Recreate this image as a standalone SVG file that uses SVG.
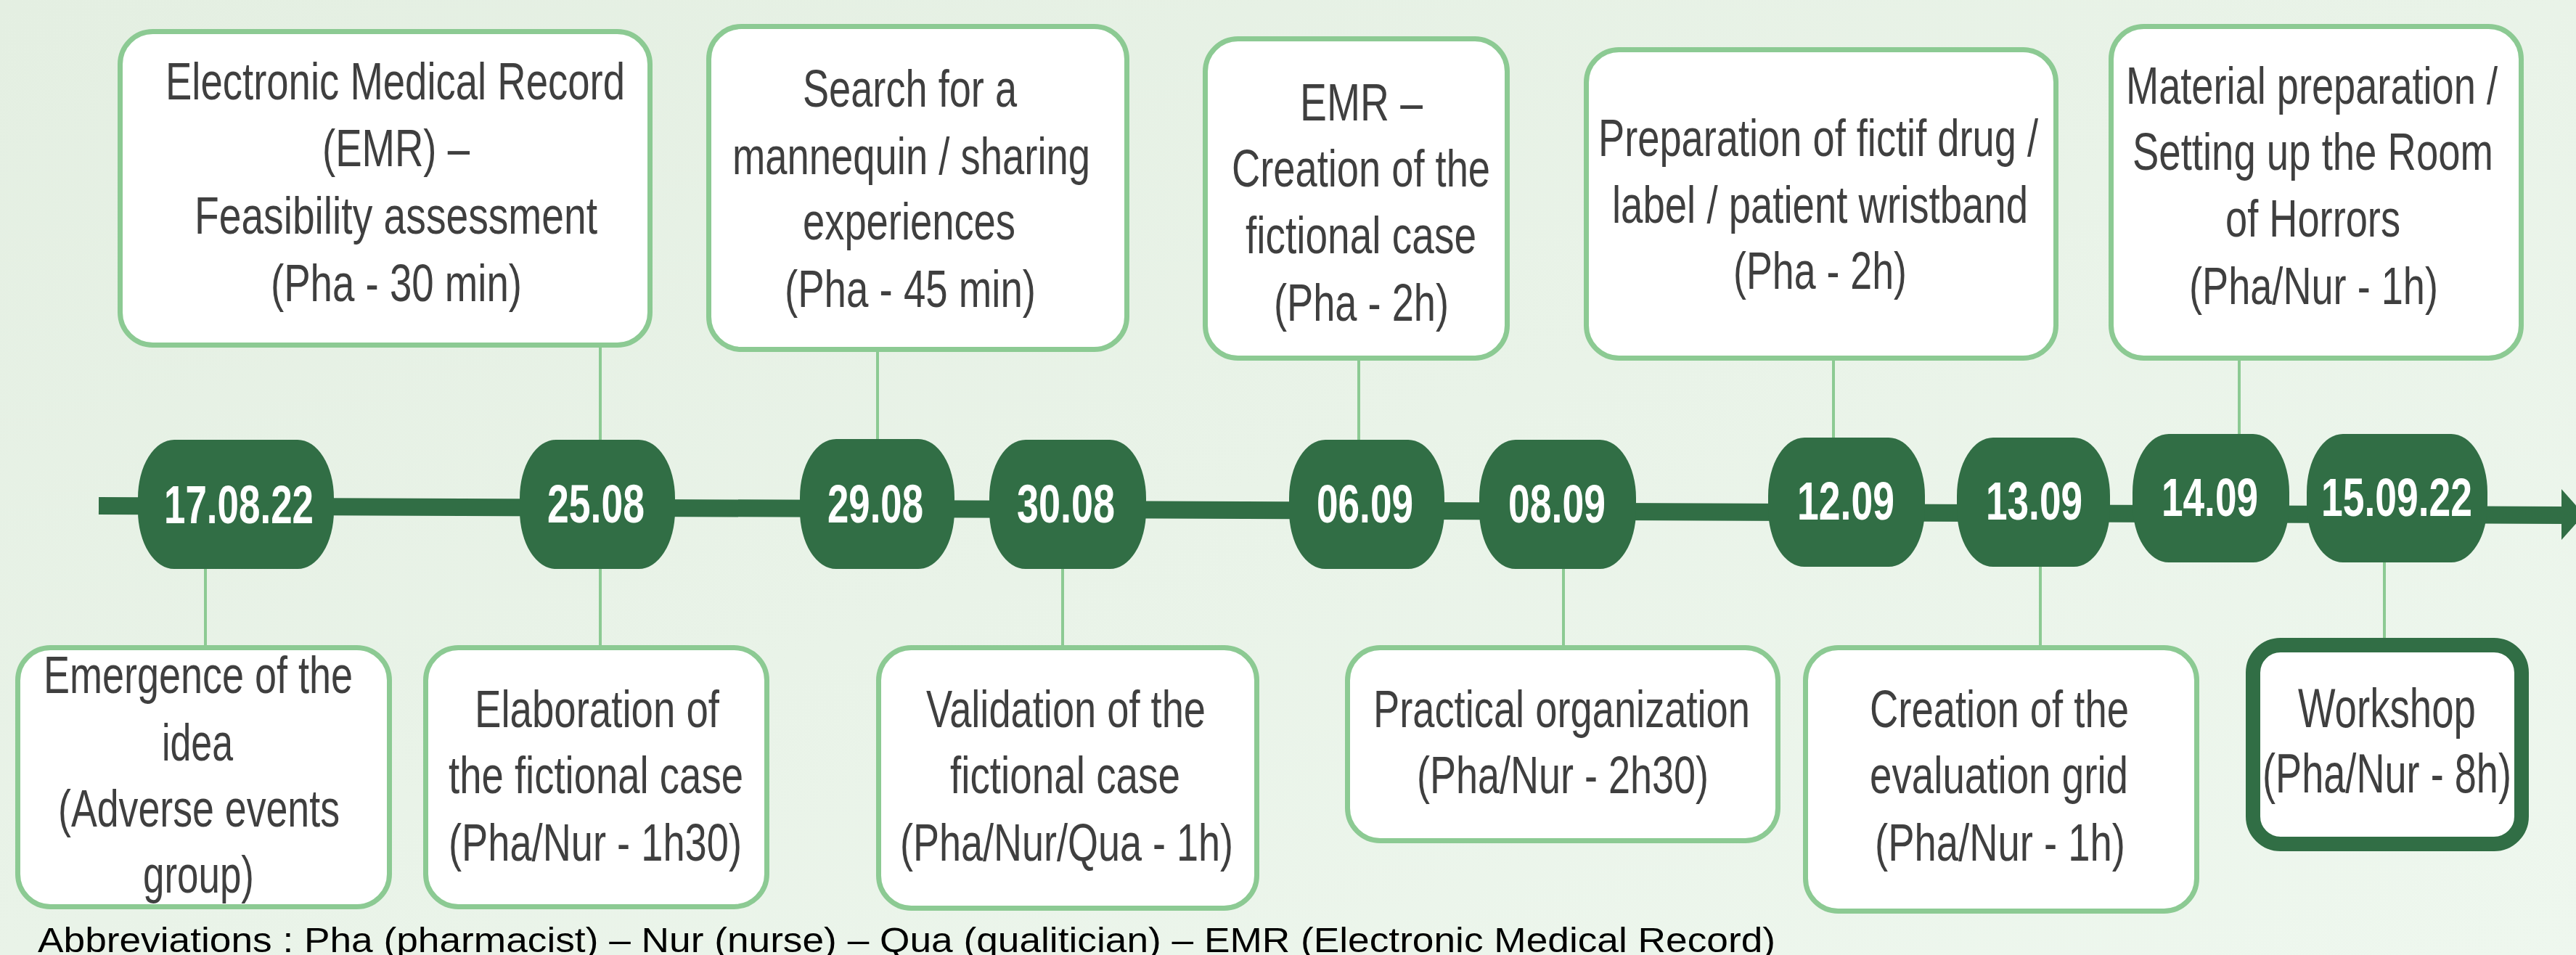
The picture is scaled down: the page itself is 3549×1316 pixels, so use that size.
<svg xmlns="http://www.w3.org/2000/svg" width="3549" height="1316" viewBox="0 0 3549 1316">
<defs>
<linearGradient id="bg" x1="0" y1="0" x2="1" y2="1">
<stop offset="0" stop-color="#e4efe2"/>
<stop offset="1" stop-color="#eef7ee"/>
</linearGradient>
<style>
.box{fill:#ffffff;stroke:#8cca93;stroke-width:7}
.wbox{fill:#ffffff;stroke:#316e45;stroke-width:20}
.node{fill:#316e45}
.lbl{font-family:"Liberation Sans",Arial,sans-serif;font-size:72px;fill:#3f3f3f}
.lblw{font-family:"Liberation Sans",Arial,sans-serif;font-size:76px;fill:#3f3f3f}
.date{font-family:"Liberation Sans",Arial,sans-serif;font-size:75px;font-weight:bold;fill:#ffffff}
.conn{stroke:#8cca93;stroke-width:4;fill:none}
.abbr{font-family:"Liberation Sans",Arial,sans-serif;font-size:49px;fill:#000000}
</style>
</defs>
<rect x="0" y="0" width="3549" height="1316" fill="url(#bg)"/>

<g id="connectors">
<line class="conn" x1="827" y1="479" x2="827" y2="608"/>
<line class="conn" x1="1209" y1="485" x2="1209" y2="607"/>
<line class="conn" x1="1872" y1="497" x2="1872" y2="608"/>
<line class="conn" x1="2526" y1="497" x2="2526" y2="605"/>
<line class="conn" x1="3085" y1="497" x2="3085" y2="600"/>
<line class="conn" x1="283" y1="782" x2="283" y2="890"/>
<line class="conn" x1="827" y1="782" x2="827" y2="890"/>
<line class="conn" x1="1464" y1="782" x2="1464" y2="890"/>
<line class="conn" x1="2154" y1="782" x2="2154" y2="890"/>
<line class="conn" x1="2811" y1="779" x2="2811" y2="890"/>
<line class="conn" x1="3285" y1="773" x2="3285" y2="881"/>
</g>

<g id="timeline">
<line x1="136" y1="697" x2="3532" y2="710" stroke="#316e45" stroke-width="24"/>
<polygon points="3529,674 3560,709 3529,744" fill="#316e45"/>
</g>

<g id="d170822"><rect class="node" x="190" y="606" width="270" height="178" rx="50" ry="80"/><text class="date" x="226" y="721" textLength="206" lengthAdjust="spacingAndGlyphs">17.08.22</text></g>
<g id="d2508"><rect class="node" x="716" y="606" width="214" height="178" rx="50" ry="80"/><text class="date" x="754" y="720" textLength="134" lengthAdjust="spacingAndGlyphs">25.08</text></g>
<g id="d2908"><rect class="node" x="1102" y="605" width="213" height="179" rx="50" ry="80"/><text class="date" x="1140" y="720" textLength="132" lengthAdjust="spacingAndGlyphs">29.08</text></g>
<g id="d3008"><rect class="node" x="1363" y="606" width="216" height="178" rx="50" ry="80"/><text class="date" x="1401" y="720" textLength="135" lengthAdjust="spacingAndGlyphs">30.08</text></g>
<g id="d0609"><rect class="node" x="1776" y="606" width="214" height="178" rx="50" ry="80"/><text class="date" x="1814" y="720" textLength="133" lengthAdjust="spacingAndGlyphs">06.09</text></g>
<g id="d0809"><rect class="node" x="2038" y="606" width="216" height="178" rx="50" ry="80"/><text class="date" x="2078" y="720" textLength="134" lengthAdjust="spacingAndGlyphs">08.09</text></g>
<g id="d1209"><rect class="node" x="2436" y="603" width="216" height="178" rx="50" ry="80"/><text class="date" x="2476" y="716" textLength="134" lengthAdjust="spacingAndGlyphs">12.09</text></g>
<g id="d1309"><rect class="node" x="2696" y="603" width="211" height="178" rx="50" ry="80"/><text class="date" x="2736" y="716" textLength="133" lengthAdjust="spacingAndGlyphs">13.09</text></g>
<g id="d1409"><rect class="node" x="2938" y="598" width="216" height="177" rx="50" ry="80"/><text class="date" x="2978" y="711" textLength="133" lengthAdjust="spacingAndGlyphs">14.09</text></g>
<g id="d150922"><rect class="node" x="3178" y="598" width="249" height="177" rx="50" ry="80"/><text class="date" x="3198" y="711" textLength="208" lengthAdjust="spacingAndGlyphs">15.09.22</text></g>

<g id="emr-feasibility"><rect class="box" x="165.5" y="43.5" width="730" height="432" rx="45"/>
<text class="lbl" x="228" y="137" textLength="633" lengthAdjust="spacingAndGlyphs">Electronic Medical Record</text>
<text class="lbl" x="444" y="229" textLength="203" lengthAdjust="spacingAndGlyphs">(EMR) –</text>
<text class="lbl" x="268" y="322" textLength="555" lengthAdjust="spacingAndGlyphs">Feasibility assessment</text>
<text class="lbl" x="373" y="415" textLength="346" lengthAdjust="spacingAndGlyphs">(Pha - 30 min)</text></g>

<g id="mannequin"><rect class="box" x="976.5" y="36.5" width="576" height="445" rx="45"/>
<text class="lbl" x="1106" y="147" textLength="295" lengthAdjust="spacingAndGlyphs">Search for a</text>
<text class="lbl" x="1009" y="240" textLength="493" lengthAdjust="spacingAndGlyphs">mannequin / sharing</text>
<text class="lbl" x="1106" y="330" textLength="293" lengthAdjust="spacingAndGlyphs">experiences</text>
<text class="lbl" x="1081" y="423" textLength="346" lengthAdjust="spacingAndGlyphs">(Pha - 45 min)</text></g>

<g id="emr-creation"><rect class="box" x="1660.5" y="53.5" width="416" height="440" rx="45"/>
<text class="lbl" x="1791" y="166" textLength="169" lengthAdjust="spacingAndGlyphs">EMR –</text>
<text class="lbl" x="1697" y="257" textLength="356" lengthAdjust="spacingAndGlyphs">Creation of the</text>
<text class="lbl" x="1716" y="349" textLength="318" lengthAdjust="spacingAndGlyphs">fictional case</text>
<text class="lbl" x="1755" y="442" textLength="241" lengthAdjust="spacingAndGlyphs">(Pha - 2h)</text></g>

<g id="fictif-drug"><rect class="box" x="2185.5" y="68.5" width="647" height="425" rx="45"/>
<text class="lbl" x="2202" y="215" textLength="606" lengthAdjust="spacingAndGlyphs">Preparation of fictif drug /</text>
<text class="lbl" x="2221" y="307" textLength="573" lengthAdjust="spacingAndGlyphs">label / patient wristband</text>
<text class="lbl" x="2388" y="398" textLength="239" lengthAdjust="spacingAndGlyphs">(Pha - 2h)</text></g>

<g id="material"><rect class="box" x="2908.5" y="36.5" width="565" height="457" rx="45"/>
<text class="lbl" x="2929" y="143" textLength="512" lengthAdjust="spacingAndGlyphs">Material preparation /</text>
<text class="lbl" x="2938" y="234" textLength="497" lengthAdjust="spacingAndGlyphs">Setting up the Room</text>
<text class="lbl" x="3066" y="326" textLength="241" lengthAdjust="spacingAndGlyphs">of Horrors</text>
<text class="lbl" x="3016" y="419" textLength="343" lengthAdjust="spacingAndGlyphs">(Pha/Nur - 1h)</text></g>

<g id="emergence"><rect class="box" x="24.5" y="892.5" width="512" height="357" rx="45"/>
<text class="lbl" x="60" y="955" textLength="426" lengthAdjust="spacingAndGlyphs">Emergence of the</text>
<text class="lbl" x="223" y="1048" textLength="98" lengthAdjust="spacingAndGlyphs">idea</text>
<text class="lbl" x="80" y="1139" textLength="388" lengthAdjust="spacingAndGlyphs">(Adverse events</text>
<text class="lbl" x="197" y="1230" textLength="153" lengthAdjust="spacingAndGlyphs">group)</text></g>

<g id="elaboration"><rect class="box" x="586.5" y="892.5" width="470" height="357" rx="45"/>
<text class="lbl" x="654" y="1002" textLength="337" lengthAdjust="spacingAndGlyphs">Elaboration of</text>
<text class="lbl" x="618" y="1093" textLength="406" lengthAdjust="spacingAndGlyphs">the fictional case</text>
<text class="lbl" x="618" y="1186" textLength="404" lengthAdjust="spacingAndGlyphs">(Pha/Nur - 1h30)</text></g>

<g id="validation"><rect class="box" x="1210.5" y="892.5" width="521" height="359" rx="45"/>
<text class="lbl" x="1276" y="1002" textLength="385" lengthAdjust="spacingAndGlyphs">Validation of the</text>
<text class="lbl" x="1309" y="1093" textLength="317" lengthAdjust="spacingAndGlyphs">fictional case</text>
<text class="lbl" x="1240" y="1186" textLength="459" lengthAdjust="spacingAndGlyphs">(Pha/Nur/Qua - 1h)</text></g>

<g id="practical"><rect class="box" x="1856.5" y="892.5" width="593" height="266" rx="45"/>
<text class="lbl" x="1892" y="1002" textLength="519" lengthAdjust="spacingAndGlyphs">Practical organization</text>
<text class="lbl" x="1952" y="1093" textLength="402" lengthAdjust="spacingAndGlyphs">(Pha/Nur - 2h30)</text></g>

<g id="evaluation-grid"><rect class="box" x="2487.5" y="892.5" width="539" height="363" rx="45"/>
<text class="lbl" x="2576" y="1002" textLength="357" lengthAdjust="spacingAndGlyphs">Creation of the</text>
<text class="lbl" x="2576" y="1093" textLength="356" lengthAdjust="spacingAndGlyphs">evaluation grid</text>
<text class="lbl" x="2583" y="1186" textLength="345" lengthAdjust="spacingAndGlyphs">(Pha/Nur - 1h)</text></g>

<g id="workshop"><rect class="wbox" x="3104" y="889" width="370" height="274" rx="38"/>
<text class="lblw" x="3166" y="1002" textLength="245" lengthAdjust="spacingAndGlyphs">Workshop</text>
<text class="lblw" x="3117" y="1092" textLength="343" lengthAdjust="spacingAndGlyphs">(Pha/Nur - 8h)</text></g>

<g id="abbreviations">
<text class="abbr" x="52" y="1312" textLength="2394" lengthAdjust="spacingAndGlyphs">Abbreviations : Pha (pharmacist) – Nur (nurse) – Qua (qualitician) – EMR (Electronic Medical Record)</text>
</g>
</svg>
